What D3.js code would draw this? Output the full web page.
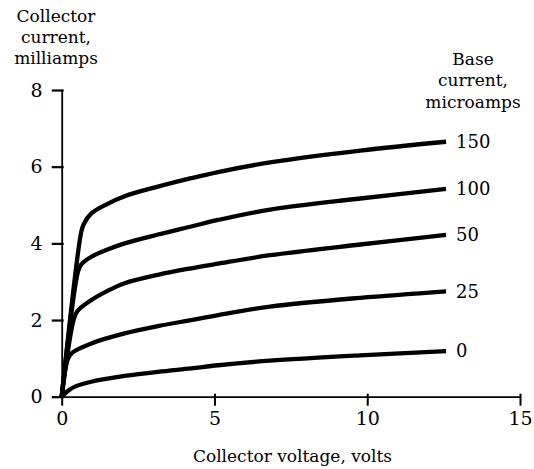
<!DOCTYPE html>
<html>
<head>
<meta charset="utf-8">
<script src="https://cdn.jsdelivr.net/npm/d3@7"></script>
<style>
  html, body { margin: 0; padding: 0; background: #fff; }
</style>
</head>
<body>
<svg id="chart" width="534" height="469" font-family="DejaVu Serif"></svg>
<script>
// ---- data (collector voltage V, collector current mA) ----
const baseCurrents = ["150", "100", "50", "25", "0"];
const curve150 = [[0,0],[0.64,4.3],[0.72,4.5],[0.97,4.78],[1.5,5.03],[2.06,5.23],[3.15,5.48],[4.24,5.7],[5.12,5.86],[6.82,6.11],[9.77,6.42],[12.58,6.65]];
const curve100 = [[0,0],[0.54,3.28],[0.64,3.45],[0.97,3.65],[1.5,3.84],[2.06,4.0],[3.15,4.23],[4.24,4.44],[5.12,4.61],[6.82,4.88],[9.77,5.17],[12.58,5.42]];
const curve50  = [[0,0],[0.4,2.04],[0.52,2.24],[0.97,2.52],[1.5,2.76],[2.06,2.96],[3.15,3.18],[4.24,3.35],[5.12,3.47],[6.82,3.69],[9.77,3.97],[12.58,4.22]];
const curve25  = [[0,0],[0.2,0.98],[0.35,1.15],[0.97,1.39],[2.06,1.65],[3.15,1.84],[4.24,2.0],[5.12,2.13],[6.82,2.35],[9.77,2.58],[12.58,2.75]];
const curve0   = [[0,0],[0.2,0.15],[0.45,0.27],[0.97,0.39],[2.06,0.54],[3.15,0.65],[4.24,0.74],[5.12,0.82],[6.82,0.94],[9.77,1.08],[12.58,1.19]];
const curves = [curve150, curve100, curve50, curve25, curve0];
const xTicks = [0, 5, 10, 15];
const yTicks = [0, 2, 4, 6, 8];
const yTitle = ["Collector", "current,", "milliamps"];
const legendTitle = ["Base", "current,", "microamps"];
const xTitle = "Collector voltage, volts";

// ---- drawing ----
const svg = d3.select("#chart");
const x = d3.scaleLinear().domain([0, 15]).range([61.7, 520]);
const y = d3.scaleLinear().domain([0, 8]).range([396.7, 90]);
const FS = 17;

// x axis
const gx = svg.append("g").attr("transform", `translate(0,${y(0)})`)
  .call(d3.axisBottom(x).tickValues(xTicks).tickSize(9).tickSizeOuter(0).tickFormat(d3.format("d")))
  .attr("font-family", null).attr("font-size", 19);
gx.select(".domain").attr("stroke", "#000").attr("stroke-width", 1.8);
gx.selectAll(".tick line").attr("stroke", "#000").attr("stroke-width", 2).attr("y1", -3);
gx.selectAll(".tick text").attr("y", 28).attr("dy", null).attr("fill", "#000");

// y axis
const gy = svg.append("g").attr("transform", `translate(${x(0)},0)`)
  .call(d3.axisLeft(y).tickValues(yTicks).tickSize(10).tickSizeOuter(0).tickFormat(d3.format("d")))
  .attr("font-family", null).attr("font-size", 19);
gy.select(".domain").attr("stroke", "#000").attr("stroke-width", 1.8);
gy.selectAll(".tick line").attr("stroke", "#000").attr("stroke-width", 2.2).attr("x1", 2);
gy.selectAll(".tick text").attr("x", -19).attr("fill", "#000");

// curves
const line = d3.line().x(d => x(d[0])).y(d => y(d[1])).curve(d3.curveCatmullRom.alpha(0.5));
svg.append("g").selectAll("path").data(curves).join("path")
  .attr("d", line)
  .attr("fill", "none")
  .attr("stroke", "#000")
  .attr("stroke-width", 4.3)
  .attr("stroke-linejoin", "round");

// curve labels
svg.append("g").attr("font-size", 18).selectAll("text").data(curves).join("text")
  .attr("x", d => x(d[d.length - 1][0]) + 10)
  .attr("y", d => y(d[d.length - 1][1]))
  .attr("dy", "0.35em")
  .text((d, i) => baseCurrents[i]);

// y title
svg.append("text").attr("text-anchor", "middle").attr("font-size", FS)
  .selectAll("tspan").data(yTitle).join("tspan")
  .attr("x", 56).attr("y", (d, i) => 22 + i * 21).text(d => d);

// legend title
svg.append("text").attr("text-anchor", "middle").attr("font-size", FS)
  .selectAll("tspan").data(legendTitle).join("tspan")
  .attr("x", 473).attr("y", (d, i) => 65 + i * 21.3).text(d => d);

// x title
svg.append("text").attr("text-anchor", "middle").attr("font-size", FS)
  .attr("x", 292.5).attr("y", 462).text(xTitle);
</script>
</body>
</html>
